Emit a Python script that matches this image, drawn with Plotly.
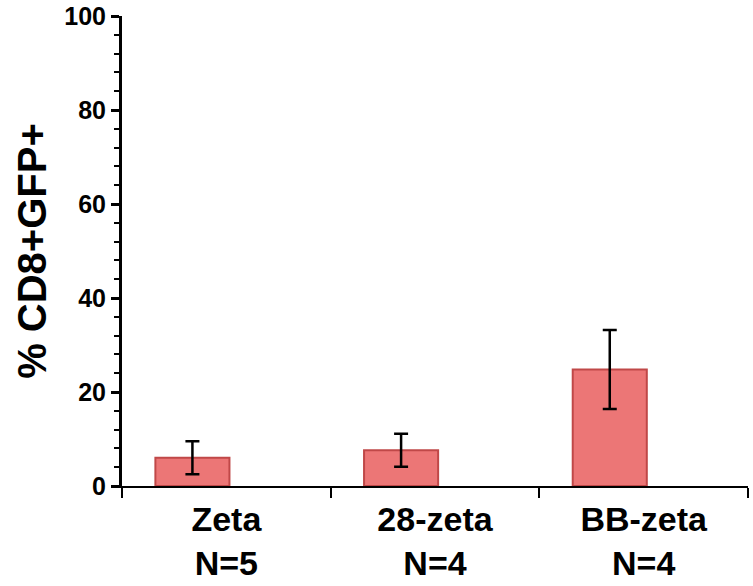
import plotly.graph_objects as go

categories = ["Zeta<br>N=5", "28-zeta<br>N=4", "BB-zeta<br>N=4"]
values = [6.0, 7.6, 24.8]
errors = [3.5, 3.5, 8.4]
y_tickvals = [0, 20, 40, 60, 80, 100]

FONT = "Arial, 'Liberation Sans', sans-serif"

fig = go.Figure()
fig.add_trace(go.Bar(
    x=categories,
    y=values,
    width=0.355,
    offset=-0.34,
    marker=dict(color="#ec7676", line=dict(color="#c04848", width=2)),
    error_y=dict(type="data", array=errors, visible=True,
                 color="black", thickness=2.5, width=7),
))

fig.update_layout(
    width=753, height=586,
    margin=dict(l=122, r=5, t=16, b=100),
    plot_bgcolor="white", paper_bgcolor="white",
    showlegend=False,
    font=dict(family=FONT, color="black"),
)
fig.update_xaxes(
    type="category",
    automargin=False,
    showline=True, linecolor="black", linewidth=2,
    ticks="outside", tickson="boundaries", ticklen=10, tickwidth=2, tickcolor="black",
    tickfont=dict(size=34, family=FONT, weight="bold"),
    ticklabelstandoff=2,
    showgrid=False, zeroline=False,
)
fig.update_yaxes(
    range=[0, 100],
    automargin=False,
    tickvals=y_tickvals,
    showline=True, linecolor="black", linewidth=3,
    ticks="outside", ticklen=8, tickwidth=2.5, tickcolor="black",
    minor=dict(dtick=4, ticks="outside", ticklen=5, tickwidth=2, tickcolor="black", showgrid=False),
    tickfont=dict(size=25, family=FONT, weight="bold"),
    title=dict(text="% CD8+GFP+", font=dict(size=40, family=FONT, weight="bold"), standoff=6),
    showgrid=False, zeroline=False,
)

fig.write_html("out.html")
